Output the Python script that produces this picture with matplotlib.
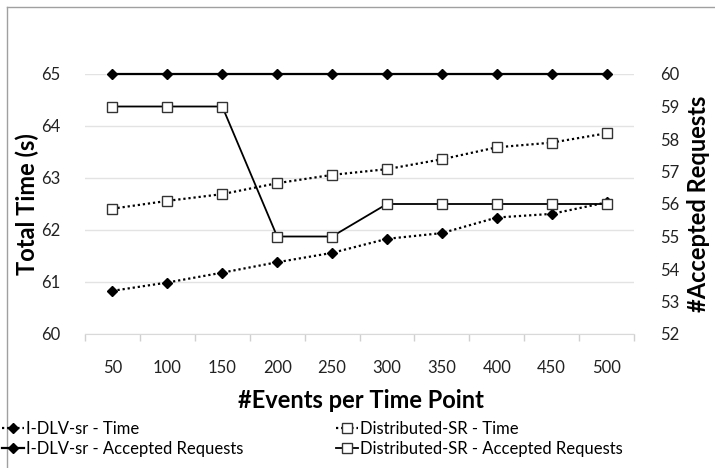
import matplotlib.pyplot as plt
from matplotlib.lines import Line2D

plt.rcParams['font.family'] = ['Lato', 'DejaVu Sans']

events = ['50', '100', '150', '200', '250', '300', '350', '400', '450', '500']
idlv_time = [60.83, 60.99, 61.18, 61.38, 61.56, 61.83, 61.94, 62.24, 62.31, 62.53]
dist_time = [62.41, 62.56, 62.69, 62.90, 63.06, 63.17, 63.36, 63.59, 63.68, 63.86]
idlv_acc = [60, 60, 60, 60, 60, 60, 60, 60, 60, 60]
dist_acc = [59, 59, 59, 55, 55, 56, 56, 56, 56, 56]

W, H = 715, 468
fig = plt.figure(figsize=(W / 100, H / 100), dpi=100)
ax = fig.add_axes([85 / W, 1 - 334 / H, (634 - 85) / W, (334 - 74) / H])
ax2 = ax.twinx()

x = list(range(len(events)))

# time series (left axis)
ax.plot(x, idlv_time, color='black', ls=(0, (1, 1.3)), lw=1.6, marker='D', ms=5.5,
        mfc='black', mec='black', label='I-DLV-sr - Time', clip_on=False)
ax.plot(x, dist_time, color='black', ls=(0, (1, 1.3)), lw=1.6, marker='s', ms=7,
        mfc='white', mec='#333333', mew=1, label='Distributed-SR - Time', clip_on=False)

# accepted requests (right axis)
ax2.plot(x, idlv_acc, color='black', ls='-', lw=1.6, marker='D', ms=5.5,
         mfc='black', mec='black', label='I-DLV-sr - Accepted Requests', clip_on=False)
ax2.plot(x, dist_acc, color='black', ls='-', lw=1.3, marker='s', ms=7,
         mfc='white', mec='#333333', mew=1, label='Distributed-SR - Accepted Requests', clip_on=False)

ax.set_xlim(-0.5, len(events) - 0.5)
ax.set_ylim(60, 65)
ax2.set_ylim(52, 60)
ax.set_yticks(range(60, 66))
ax2.set_yticks(range(52, 61))

ax.set_xticks(x)
ax.set_xticklabels(events)
ax.set_xticks([i - 0.5 for i in range(len(events) + 1)], minor=True)
ax.tick_params(axis='x', which='major', length=0, pad=19, labelsize=12, colors='#222222')
ax.tick_params(axis='x', which='minor', length=5, color='#d0d0d0', width=1)
ax.tick_params(axis='y', length=0, pad=18, labelsize=12, colors='#222222')
ax2.tick_params(axis='y', length=0, pad=19, labelsize=12, colors='#222222')

ax.yaxis.grid(True, color='#e3e3e3', lw=1)
ax.set_axisbelow(True)
for a in (ax, ax2):
    for s in ['top', 'left', 'right']:
        a.spines[s].set_visible(False)
    a.spines['bottom'].set_color('#d9d9d9')
ax2.spines['bottom'].set_visible(False)

fig.text(27 / W, 1 - 204 / H, 'Total Time (s)', rotation=90, ha='center', va='center',
         fontsize=17, fontweight='bold')
fig.text(698 / W, 1 - 204 / H, '#Accepted Requests', rotation=90, ha='center', va='center',
         fontsize=17, fontweight='bold')
fig.text(361 / W, 1 - 400 / H, '#Events per Time Point', ha='center', va='center',
         fontsize=17, fontweight='bold')

h1, l1 = ax.get_legend_handles_labels()
h2, l2 = ax2.get_legend_handles_labels()
handles = [h1[0], h2[0], h1[1], h2[1]]
labels = [l1[0], l2[0], l1[1], l2[1]]
fig.legend(handles, labels, loc='upper left', bbox_to_anchor=(-0.006, 1 - 414 / H), ncol=2,
           frameon=False, fontsize=12, handlelength=1.3, handletextpad=0.1,
           columnspacing=5.6, labelspacing=0.25, borderaxespad=0)

# chart frame
fig.add_artist(Line2D([7 / W, 1], [1 - 7 / H, 1 - 7 / H], color='#a0a0a0', lw=1))
fig.add_artist(Line2D([7 / W, 7 / W], [0, 1 - 7 / H], color='#a0a0a0', lw=1))

fig.savefig('out.png', dpi=100)
